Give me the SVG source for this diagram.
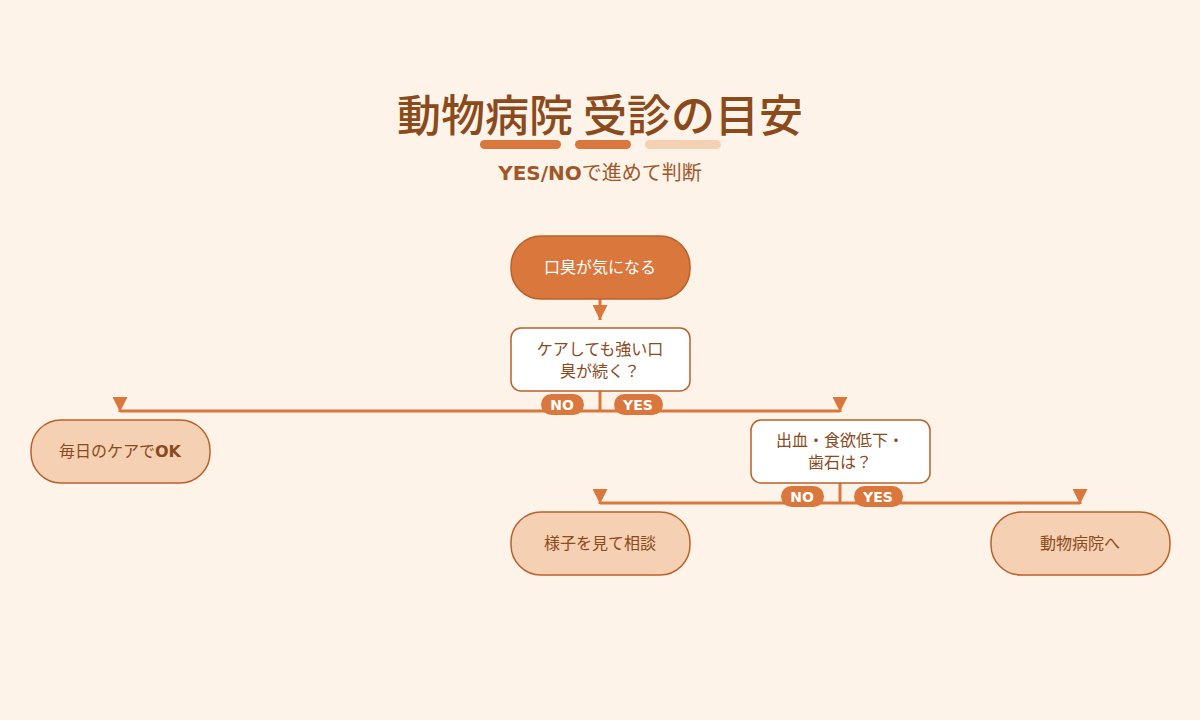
<svg xmlns="http://www.w3.org/2000/svg" width="1200" height="720" viewBox="0 0 1200 720">
<style>
text{font-family:"Noto Sans CJK JP","Noto Sans",sans-serif;text-anchor:middle}
.t{fill:#8a4a1c;font-size:44px;font-weight:500}
.st{fill:#a0582a;font-size:20px}
.n{fill:#8a4a1c;font-size:16px}
.w{fill:#fff;font-size:16px}
.term{fill:#f5d0b2;stroke:#b8612b;stroke-width:1.5}
.dec{fill:#fff;stroke:#b8612b;stroke-width:1.5}
.ln{stroke:#d9773c;stroke-width:3;fill:none}
.pill{fill:#d9773c}
.pt{fill:#fff;font-size:14px;font-weight:bold;font-family:"DejaVu Sans",sans-serif}
</style>
<defs><marker id="a" viewBox="0 0 10 10" refX="10" refY="5" markerWidth="5" markerHeight="5" orient="auto" markerUnits="strokeWidth"><path d="M0,0L10,5L0,10Z" fill="#d9773c"/></marker></defs>
<rect width="1200" height="720" fill="#fef3e8"/>
<text x="600" y="132" class="t">動物病院 受診の目安</text>
<rect x="480" y="140" width="81" height="9" rx="4.5" fill="#d9773c"/>
<rect x="575" y="140" width="56" height="9" rx="4.5" fill="#d9773c"/>
<rect x="645" y="140" width="76" height="9" rx="4.5" fill="#f5d0b2"/>
<text x="600" y="180" class="st"><tspan font-weight="bold" font-family="DejaVu Sans,sans-serif">YES/NO</tspan>で進めて判断</text>
<g id="connectors">
<path class="ln" d="M600,299V320" marker-end="url(#a)"/>
<path class="ln" d="M600,391V411"/>
<path class="ln" d="M600,411H120V412" marker-end="url(#a)"/>
<path class="ln" d="M600,411H840V412" marker-end="url(#a)"/>
<path class="ln" d="M840,483V503"/>
<path class="ln" d="M840,503H600V504" marker-end="url(#a)"/>
<path class="ln" d="M840,503H1080V504" marker-end="url(#a)"/>
<rect class="pill" x="541" y="394" width="43" height="21" rx="10.5"/><text class="pt" x="562" y="409.5">NO</text>
<rect class="pill" x="614" y="394" width="49" height="21" rx="10.5"/><text class="pt" x="638" y="409.5">YES</text>
<rect class="pill" x="781" y="486" width="43" height="21" rx="10.5"/><text class="pt" x="802" y="501.5">NO</text>
<rect class="pill" x="854" y="486" width="49" height="21" rx="10.5"/><text class="pt" x="878" y="501.5">YES</text>
</g>
<g id="start"><rect x="511" y="236" width="179" height="63" rx="30" fill="#d9773c" stroke="#b8612b" stroke-width="1.5"/><text class="w" x="600" y="273">口臭が気になる</text></g>
<g id="q1"><rect class="dec" x="511" y="328" width="179" height="63" rx="10"/><text class="n" x="600" y="355">ケアしても強い口</text><text class="n" x="600" y="377">臭が続く？</text></g>
<g id="ok"><rect class="term" x="31" y="420" width="179" height="63" rx="30"/><text class="n" x="120" y="457">毎日のケアで<tspan font-weight="bold" font-family="DejaVu Sans,sans-serif">OK</tspan></text></g>
<g id="q2"><rect class="dec" x="751" y="420" width="179" height="63" rx="10"/><text class="n" x="840" y="446">出血・食欲低下・</text><text class="n" x="840" y="468">歯石は？</text></g>
<g id="watch"><rect class="term" x="511" y="512" width="179" height="63" rx="30"/><text class="n" x="600" y="549">様子を見て相談</text></g>
<g id="vet"><rect class="term" x="991" y="512" width="179" height="63" rx="30"/><text class="n" x="1080" y="549">動物病院へ</text></g>
</svg>
